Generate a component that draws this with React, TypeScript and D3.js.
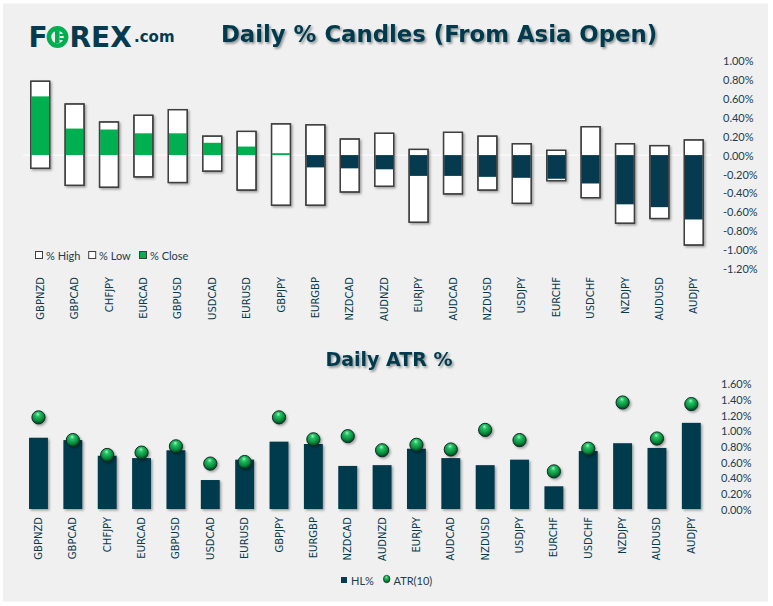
import React from 'react';
import * as d3 from 'd3';

const categories = ['GBPNZD','GBPCAD','CHFJPY','EURCAD','GBPUSD','USDCAD','EURUSD','GBPJPY','EURGBP','NZDCAD','AUDNZD','EURJPY','AUDCAD','NZDUSD','USDJPY','EURCHF','USDCHF','NZDJPY','AUDUSD','AUDJPY'];
const highPct = [0.78,0.54,0.35,0.42,0.48,0.20,0.25,0.33,0.32,0.17,0.23,0.06,0.24,0.20,0.12,0.05,0.30,0.12,0.10,0.16];
const lowPct = [-0.14,-0.32,-0.34,-0.23,-0.29,-0.17,-0.37,-0.53,-0.53,-0.39,-0.33,-0.71,-0.41,-0.37,-0.51,-0.27,-0.45,-0.72,-0.67,-0.95];
const closePct = [0.62,0.28,0.27,0.23,0.23,0.13,0.09,0.02,-0.13,-0.14,-0.15,-0.22,-0.22,-0.23,-0.24,-0.25,-0.30,-0.52,-0.55,-0.68];
const hlPct = [0.91,0.88,0.68,0.65,0.75,0.37,0.63,0.86,0.83,0.55,0.56,0.77,0.65,0.56,0.63,0.29,0.74,0.84,0.78,1.10];
const atr10 = [1.17,0.88,0.69,0.72,0.80,0.58,0.60,1.17,0.89,0.93,0.75,0.82,0.76,1.01,0.88,0.48,0.77,1.36,0.90,1.34];
const topTicks = [1.0,0.8,0.6,0.4,0.2,0,-0.2,-0.4,-0.6,-0.8,-1.0,-1.2];
const bottomTicks = [0,0.2,0.4,0.6,0.8,1.0,1.2,1.4,1.6];

const NAVY = '#063a4e';
const GREEN = '#00b050';
const TXT = '#1b3d4f';
const LAB = "Lato, 'Open Sans', sans-serif";
const VER = "'DejaVu Sans', Verdana, sans-serif";

const fmt = (v: number) => (Math.abs(v) < 1e-9 ? 0 : v).toFixed(2) + '%';

export default function App() {
  const W = 773, H = 606;
  const xTop = d3.scaleBand<string>().domain(categories).range([23, 711]).paddingInner(0.45).paddingOuter(0.225);
  const yTop = d3.scaleLinear().domain([-1.2, 1.0]).range([268.7, 60.4]);
  const xBot = d3.scaleBand<string>().domain(categories).range([21.3, 708.5]).paddingInner(0.45).paddingOuter(0.225);
  const yBot = d3.scaleLinear().domain([0, 1.6]).range([509, 383.7]);
  const bw = xTop.bandwidth();
  const bb = xBot.bandwidth();

  return (
    <svg width={W} height={H} style={{ position: 'absolute', left: 0, top: 0, background: '#fff' }}>
      <defs>
        <filter id="sh" x="-50%" y="-50%" width="200%" height="200%">
          <feDropShadow dx="1.5" dy="1.5" stdDeviation="1.3" floodColor="#000" floodOpacity="0.35" />
        </filter>
        <filter id="tsh" x="-10%" y="-30%" width="120%" height="160%">
          <feDropShadow dx="1.6" dy="1.8" stdDeviation="1.3" floodColor="#000" floodOpacity="0.4" />
        </filter>
        <radialGradient id="ball" cx="45%" cy="35%" r="65%" fx="45%" fy="25%">
          <stop offset="0%" stopColor="#a8f5c4" />
          <stop offset="25%" stopColor="#25c465" />
          <stop offset="70%" stopColor="#07893b" />
          <stop offset="100%" stopColor="#033d1e" />
        </radialGradient>
      </defs>
      <rect x={3} y={3.5} width={765} height={598} fill="#f0f0f0" />

      {/* Logo */}
      <g fontFamily={VER} fontWeight="bold">
        <text x={28.5} y={47} fontSize={28} fill={NAVY}>F</text>
        <circle cx={57.5} cy={37} r={8.6} fill="none" stroke={GREEN} strokeWidth={4.6} />
        <rect x={55} y={31} width={4.5} height={12} fill={GREEN} />
        <rect x={59.5} y={34} width={5.5} height={2} fill={GREEN} />
        <rect x={59.5} y={38} width={5.5} height={2} fill={GREEN} />
        <text x={69.5} y={47} fontSize={28} fill={NAVY}>REX</text>
        <text x={134} y={42} fontSize={15} fill={NAVY}>.com</text>
      </g>

      {/* Titles */}
      <text x={439} y={42} textAnchor="middle" fontFamily={VER} fontWeight="bold" fontSize={22.8} fill={NAVY} filter="url(#tsh)">Daily % Candles (From Asia Open)</text>
      <text x={389} y={366} textAnchor="middle" fontFamily={VER} fontWeight="bold" fontSize={19} fill={NAVY} filter="url(#tsh)">Daily ATR %</text>

      {/* Top chart */}
      <line x1={23} x2={711} y1={yTop(0)} y2={yTop(0)} stroke="#ffffff" strokeWidth={1} />
      {categories.map((c, i) => {
        const x = xTop(c)!;
        const yh = yTop(highPct[i]);
        const yl = yTop(lowPct[i]);
        const y0 = yTop(0);
        const yc = yTop(closePct[i]);
        return (
          <g key={c}>
            <rect x={x} y={yh} width={bw} height={yl - yh} fill="#fff" stroke="#404040" strokeWidth={1.3} filter="url(#sh)" />
            <rect x={x + 0.6} y={Math.min(y0, yc)} width={bw - 1.2} height={Math.abs(yc - y0)} fill={closePct[i] >= 0 ? GREEN : NAVY} />
            <rect x={x} y={yh} width={bw} height={yl - yh} fill="none" stroke="#404040" strokeWidth={1.3} />
          </g>
        );
      })}
      {topTicks.map(t => (
        <text key={t} x={723} y={yTop(t)} dominantBaseline="central" fontFamily={LAB} fontSize={11} fill={TXT}>{fmt(t)}</text>
      ))}
      {categories.map(c => (
        <text key={c} transform={`translate(${xTop(c)! + bw / 2},277) rotate(-90)`} textAnchor="end" dominantBaseline="central" fontFamily={VER} fontSize={10} fill={NAVY}>{c}</text>
      ))}
      {/* Top legend */}
      <g fontFamily={LAB} fontSize={11} fill={TXT}>
        <rect x={35.5} y={251.5} width={7} height={7} fill="#fff" stroke="#404040" strokeWidth={1} />
        <text x={46} y={255} dominantBaseline="central">% High</text>
        <rect x={88.7} y={251.5} width={7} height={7} fill="#fff" stroke="#404040" strokeWidth={1} />
        <text x={99} y={255} dominantBaseline="central">% Low</text>
        <rect x={139.5} y={251.5} width={7} height={7} fill={GREEN} stroke="#404040" strokeWidth={1} />
        <text x={150} y={255} dominantBaseline="central">% Close</text>
      </g>

      {/* Bottom chart */}
      {categories.map((c, i) => (
        <rect key={c} x={xBot(c)!} y={yBot(hlPct[i])} width={bb} height={yBot(0) - yBot(hlPct[i])} fill={NAVY} filter="url(#sh)" />
      ))}
      {categories.map((c, i) => (
        <circle key={c} cx={xBot(c)! + bb / 2} cy={yBot(atr10[i])} r={6.6} fill="url(#ball)" stroke="#0d2a25" strokeWidth={1} filter="url(#sh)" />
      ))}
      {bottomTicks.map(t => (
        <text key={t} x={721} y={yBot(t)} dominantBaseline="central" fontFamily={LAB} fontSize={11} fill={TXT}>{fmt(t)}</text>
      ))}
      {categories.map(c => (
        <text key={c} transform={`translate(${xBot(c)! + bb / 2},517) rotate(-90)`} textAnchor="end" dominantBaseline="central" fontFamily={VER} fontSize={10} fill={NAVY}>{c}</text>
      ))}
      {/* Bottom legend */}
      <g fontFamily={LAB} fontSize={11} fill={TXT}>
        <rect x={341} y={577} width={6} height={6} fill={NAVY} />
        <text x={351} y={580} dominantBaseline="central">HL%</text>
        <ellipse cx={386.7} cy={579} rx={3.3} ry={3.8} fill="url(#ball)" stroke="#0d2a25" strokeWidth={0.6} />
        <text x={393.5} y={580} dominantBaseline="central">ATR(10)</text>
      </g>
    </svg>
  );
}
